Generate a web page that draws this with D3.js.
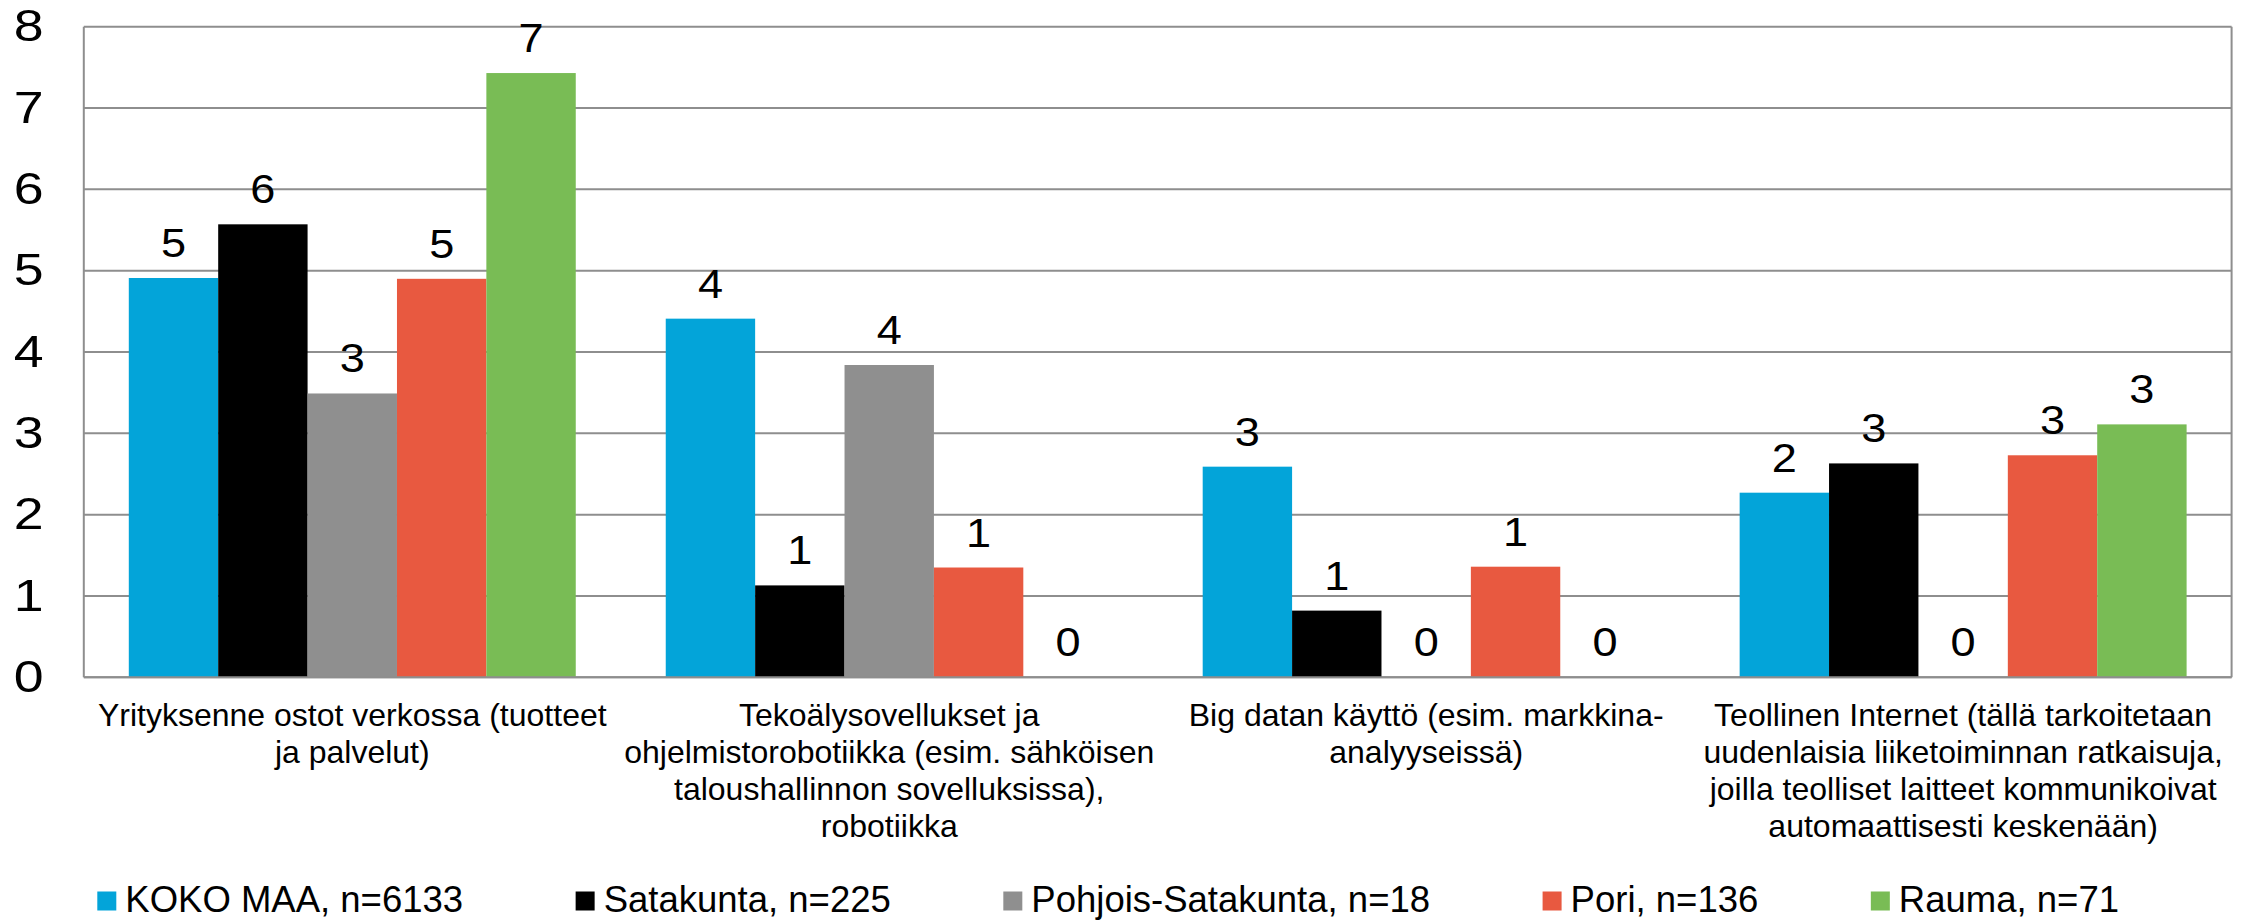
<!DOCTYPE html>
<html>
<head>
<meta charset="utf-8">
<script src="https://cdn.jsdelivr.net/npm/d3@7"></script>
<style>
  html, body { margin: 0; padding: 0; background: #ffffff; }
  svg { display: block; }
  text { font-family: "Liberation Sans", Arial, sans-serif; fill: #000; }
</style>
</head>
<body>
<svg id="chart" width="2241" height="921"></svg>
<script>
// ---- data ----
const categories = [
  ["Yrityksenne ostot verkossa (tuotteet", "ja palvelut)"],
  ["Tekoälysovellukset ja", "ohjelmistorobotiikka (esim. sähköisen", "taloushallinnon sovelluksissa),", "robotiikka"],
  ["Big datan käyttö (esim. markkina-", "analyyseissä)"],
  ["Teollinen Internet (tällä tarkoitetaan", "uudenlaisia liiketoiminnan ratkaisuja,", "joilla teolliset laitteet kommunikoivat", "automaattisesti keskenään)"]
];
const seriesNames = ["KOKO MAA, n=6133", "Satakunta, n=225", "Pohjois-Satakunta, n=18", "Pori, n=136", "Rauma, n=71"];
const kokoMaa   = [4.91, 4.41, 2.59, 2.27];
const satakunta = [5.57, 1.13, 0.82, 2.63];
const pohjois   = [3.49, 3.84, 0, 0];
const pori      = [4.90, 1.35, 1.36, 2.73];
const rauma     = [7.43, 0, 0, 3.11];
const yTicks = [0, 1, 2, 3, 4, 5, 6, 7, 8];
const colors = ["#03A4D9", "#000000", "#8F8F8F", "#E85940", "#79BC55"];

const seriesValues = [kokoMaa, satakunta, pohjois, pori, rauma];

// ---- layout ----
const svg = d3.select("#chart");
const plotL = 83.8, plotR = 2231.6, plotT = 26.7, plotB = 677.3;
const gridColor = "#8E8E8E";

const catIdx = categories.map((d, i) => i);
const x0 = d3.scaleBand().domain(catIdx).range([plotL, plotR])
  .paddingInner(0.1676).paddingOuter(0.0838);
const x1 = d3.scaleBand().domain(d3.range(seriesNames.length)).range([0, x0.bandwidth()]).padding(0);
const y = d3.scaleLinear().domain([0, 8]).range([plotB, plotT]);

// gridlines
svg.append("g").selectAll("line").data(yTicks).join("line")
  .attr("x1", plotL).attr("x2", plotR)
  .attr("y1", d => y(d)).attr("y2", d => y(d))
  .attr("stroke", gridColor).attr("stroke-width", 2);

// bars
const groups = svg.append("g").selectAll("g").data(catIdx).join("g")
  .attr("transform", c => `translate(${x0(c)},0)`);

groups.selectAll("rect").data(c => seriesValues.map((vals, s) => ({ s, v: vals[c] })))
  .join("rect")
  .attr("x", d => x1(d.s))
  .attr("width", x1.bandwidth())
  .attr("y", d => y(d.v))
  .attr("height", d => y(0) - y(d.v))
  .attr("fill", d => colors[d.s]);

// data labels
const fmt = d3.format(".0f");
groups.selectAll("text.val").data(c => seriesValues.map((vals, s) => ({ s, v: vals[c] })))
  .join("text").attr("class", "val")
  .attr("transform", d => `translate(${x1(d.s) + x1.bandwidth() / 2},${y(d.v) - 21}) scale(1.1,1)`)
  .attr("text-anchor", "middle")
  .style("font-size", "41px")
  .text(d => fmt(d.v));

// plot frame (left, right, bottom)
svg.append("line").attr("x1", plotL).attr("x2", plotL).attr("y1", plotT).attr("y2", plotB)
  .attr("stroke", gridColor).attr("stroke-width", 2);
svg.append("line").attr("x1", plotR).attr("x2", plotR).attr("y1", plotT).attr("y2", plotB)
  .attr("stroke", gridColor).attr("stroke-width", 2);
svg.append("line").attr("x1", plotL).attr("x2", plotR).attr("y1", plotB).attr("y2", plotB)
  .attr("stroke", gridColor).attr("stroke-width", 2);

// y axis labels
const yAxis = d3.axisLeft(y).tickValues(yTicks).tickSize(0).tickPadding(0).tickFormat(d3.format("d"));
const yg = svg.append("g").attr("transform", `translate(43.5,0)`).call(yAxis);
yg.select(".domain").remove();
yg.attr("font-family", null).attr("font-size", null);
yg.selectAll("text").style("font-size", "44px").attr("fill", "#000")
  .attr("transform", "scale(1.22,1)");

// category labels
const catG = svg.append("g");
categories.forEach((lines, c) => {
  const cxp = x0(c) + x0.bandwidth() / 2;
  const t = catG.append("text")
    .attr("x", cxp)
    .attr("y", plotB + 48.5)
    .attr("text-anchor", "middle")
    .style("font-size", "32px");
  lines.forEach((ln, i) => {
    t.append("tspan").attr("x", cxp).attr("dy", i === 0 ? 0 : 36.9).text(ln);
  });
});

// legend
const legG = svg.append("g");
const sw = 19, swGap = 9, legBase = 912, legStart = 97.3, legEnd = 2119;
const items = seriesNames.map((name, i) => {
  const g = legG.append("g");
  g.append("rect").attr("x", 0).attr("y", legBase - 20.5).attr("width", sw).attr("height", sw).attr("fill", colors[i]);
  const t = g.append("text").attr("x", sw + swGap).attr("y", legBase).style("font-size", "36.5px").text(name);
  return { g, w: sw + swGap + t.node().getComputedTextLength() };
});
const itemGap = (legEnd - legStart - d3.sum(items, d => d.w)) / (items.length - 1);
let lx = legStart;
items.forEach(it => { it.g.attr("transform", `translate(${lx},0)`); lx += it.w + itemGap; });
</script>
</body>
</html>
